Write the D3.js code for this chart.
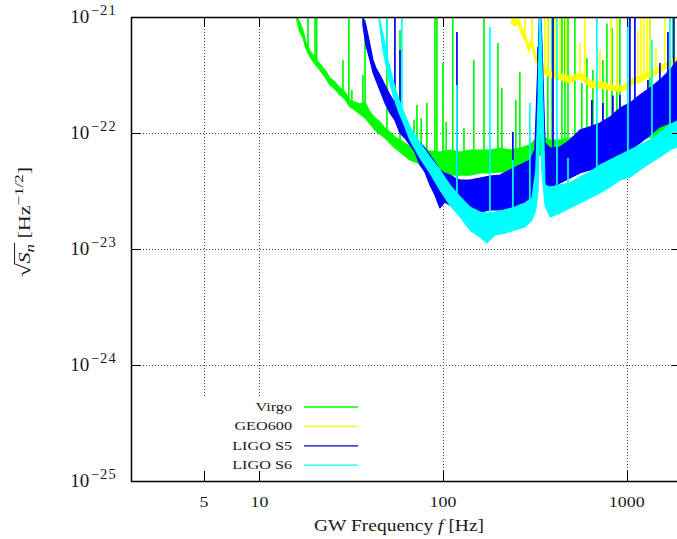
<!DOCTYPE html>
<html><head><meta charset="utf-8">
<script src="https://cdn.jsdelivr.net/npm/d3@7"></script>
<style>body{margin:0;background:#fff}svg{display:block}</style>
</head><body>
<svg id="c" width="677" height="539"></svg>
<script>
// ---------- tick labels ----------
const xTickValues = [5, 10, 100, 1000];
const xTickLabels = ["5", "10", "100", "1000"];
const yTickValues = [1e-21, 1e-22, 1e-23, 1e-24, 1e-25];
const yTickExponents = ["−21", "−22", "−23", "−24", "−25"];
const seriesNames = ["Virgo", "GEO600", "LIGO S5", "LIGO S6"];

// ---------- Virgo (band envelope + spectral lines) ----------
const virgoFreq = [16.0,16.6,17.3,17.9,18.9,20.1,21.4,22.8,24.2,25.8,27.5,29.2,31.1,33.1,35.3,37.6,40.0,42.6,45.3,48.3,51.4,54.7,58.3,62.0,66.0,74.9,84.9,96.2,109,124,140,159,180,204,231,262,297,337,382,433,491,556,715,918,1180,1516,1998];
const virgoHigh = [1e-21,9.05e-22,7.57e-22,6.09e-22,5.09e-22,4.43e-22,3.93e-22,3.49e-22,2.98e-22,2.75e-22,2.44e-22,2.26e-22,1.93e-22,1.85e-22,1.78e-22,1.85e-22,1.52e-22,1.35e-22,1.25e-22,1.10e-22,1.02e-22,9.24e-23,8.70e-23,8.20e-23,7.73e-23,7.28e-23,7.0e-23,6.86e-23,7.13e-23,6.86e-23,7.13e-23,7.13e-23,7.13e-23,7.42e-23,7.13e-23,7.42e-23,7.88e-23,9.61e-23,8.70e-23,8.70e-23,9.06e-23,9.61e-23,1.06e-22,1.17e-22,1.35e-22,1.58e-22,1.93e-22];
const virgoLow  = [9.42e-22,7.42e-22,6.59e-22,5.40e-22,4.52e-22,3.93e-22,3.49e-22,3.04e-22,2.59e-22,2.39e-22,2.13e-22,1.96e-22,1.68e-22,1.58e-22,1.46e-22,1.35e-22,1.20e-22,1.06e-22,9.80e-23,9.06e-23,8.20e-23,7.42e-23,6.86e-23,6.33e-23,5.85e-23,5.40e-23,5.19e-23,4.80e-23,4.34e-23,4.34e-23,4.34e-23,4.52e-23,4.52e-23,4.61e-23,4.61e-23,4.80e-23,5.30e-23,6.46e-23,6.46e-23,6.46e-23,6.72e-23,6.86e-23,7.42e-23,7.88e-23,8.70e-23,9.61e-23,1.06e-22];
const virgoLineFreq = [18.4,20.1,20.5,28.5,30.7,31.9,36.6,37.6,49.5,58.3,69.5,72.1,76.0,81.7,90.3,92.6,99.9,104,113,130,147,167,199,209,249,262,372,392,444,461,479,522,570,607,655,742,780,831,884,918,1338,1785];
const virgoLineTop  = [2e-21,2e-21,2e-21,4.26e-22,2e-21,2.35e-22,3.16e-22,9.4e-22,2e-21,7.72e-22,1.3e-22,1.74e-22,1.35e-22,1.81e-22,2e-21,2e-21,4.01e-22,1.25e-22,2e-21,1.1e-22,4.26e-22,2e-21,5.97e-22,2.44e-22,1.93e-22,3.36e-22,2e-21,2e-21,2e-21,2e-21,2e-21,2e-21,2.70e-22,4.43e-22,3.49e-22,4.26e-22,8.8e-22,8.04e-22,2e-21,2e-21,2e-21,2e-21];

// ---------- GEO600 ----------
const geoFreq = [237,246,256,269,283,293,305,316,337,359,382,417,461,491,536,577,630,688,742,810,884,954,1015,1081,1180,1289,1389,1516,1655,1785,1998];
const geoHigh = [1e-21,9.42e-22,9.8e-22,8.04e-22,6.72e-22,5.74e-22,6.59e-22,5.0e-22,4.01e-22,3.63e-22,3.42e-22,3.29e-22,3.16e-22,3.04e-22,3.23e-22,3.23e-22,2.81e-22,2.75e-22,2.75e-22,2.59e-22,2.54e-22,2.54e-22,2.75e-22,2.98e-22,3.10e-22,3.29e-22,3.42e-22,3.78e-22,4.01e-22,4.34e-22,4.61e-22];
const geoLow  = [8.70e-22,8.36e-22,8.70e-22,7.0e-22,5.97e-22,5.0e-22,5.85e-22,4.26e-22,3.56e-22,3.23e-22,3.04e-22,2.92e-22,2.81e-22,2.70e-22,2.92e-22,2.86e-22,2.49e-22,2.44e-22,2.44e-22,2.35e-22,2.30e-22,2.30e-22,2.44e-22,2.64e-22,2.75e-22,2.98e-22,3.10e-22,3.36e-22,3.63e-22,3.93e-22,4.09e-22];
const geoLineFreq = [279,305,359,372,407,433,467,556,592,715,820,884,1151,1195,1241,1289,1338,1442,1614,1719];
const geoLineTop  = [2e-21,2e-21,2e-21,2e-21,2e-21,2e-21,2e-21,5.97e-22,2e-21,5.19e-22,2e-21,2e-21,7.72e-22,2e-21,2e-21,2e-21,2e-21,5.51e-22,2e-21,2e-21];

// ---------- LIGO S5 ----------
const s5Freq = [36.6,38.0,40.0,41.5,43.1,45.3,48.3,51.4,54.7,58.3,62.0,66.0,70.3,74.9,79.7,84.9,90.3,96.2,102,109,116,124,140,159,180,204,231,262,297,316,329,337,345,359,382,433,491,556,630,715,810,918,1041,1180,1338,1516,1719,1998];
const s5High = [1e-21,8.53e-22,5.74e-22,4.26e-22,3.63e-22,3.16e-22,2.59e-22,2.13e-22,1.81e-22,1.58e-22,1.29e-22,1.06e-22,9.24e-23,8.20e-23,7.42e-23,6.46e-23,5.62e-23,4.80e-23,4.52e-23,4.34e-23,4.09e-23,3.93e-23,3.93e-23,4.09e-23,4.26e-23,4.34e-23,4.80e-23,5.30e-23,5.85e-23,7.13e-23,4.26e-22,1.5e-21,6.33e-22,8.20e-23,7.42e-23,7.57e-23,8.70e-23,1.06e-22,1.13e-22,1.22e-22,1.37e-22,1.64e-22,1.81e-22,2.13e-22,2.44e-22,2.86e-22,3.49e-22,4.70e-22];
const s5Low  = [8.53e-22,5.74e-22,4.26e-22,3.36e-22,2.86e-22,2.35e-22,1.81e-22,1.49e-22,1.29e-22,1.0e-22,9.06e-23,7.88e-23,6.86e-23,5.30e-23,4.61e-23,3.56e-23,2.92e-23,2.26e-23,2.54e-23,2.39e-23,2.39e-23,2.26e-23,2.17e-23,2.08e-23,2.17e-23,2.17e-23,2.26e-23,2.39e-23,2.65e-23,2.92e-23,1.29e-22,4.26e-22,1.29e-22,3.56e-23,3.23e-23,3.71e-23,4.09e-23,4.52e-23,4.80e-23,5.09e-23,5.85e-23,6.46e-23,7.13e-23,8.20e-23,9.61e-23,1.13e-22,1.22e-22,1.29e-22];
const s5LineFreq = [54.7,58.3,119,240,329,397,646,742,841,918,1041,1108,1305,1516,1676,1807];
const s5LineTop  = [2e-21,5.19e-22,7.42e-22,1.02e-22,5.51e-22,2e-21,1.93e-22,1.81e-22,2.1e-22,2.13e-22,2e-21,2e-21,2.86e-22,4.01e-22,7.42e-22,2e-21];

// ---------- LIGO S6 ----------
const s6Freq = [44.8,47.1,50.1,53.4,56.8,62.0,66.0,74.9,84.9,96.2,109,124,140,159,173,192,217,246,279,305,320,329,337,345,359,382,433,491,556,630,715,810,918,1041,1180,1338,1516,1719,1998];
const s6High = [1e-21,7.0e-22,4.26e-22,2.86e-22,2.04e-22,1.43e-22,1.13e-22,8.20e-23,6.21e-23,4.80e-23,3.56e-23,2.81e-23,2.30e-23,2.08e-23,2.04e-23,2.08e-23,2.17e-23,2.30e-23,2.49e-23,2.75e-23,4.80e-23,1.93e-22,1.5e-21,4.26e-22,3.56e-23,3.42e-23,3.56e-23,3.71e-23,4.17e-23,4.61e-23,5.30e-23,5.85e-23,6.46e-23,7.13e-23,7.88e-23,8.70e-23,1.0e-22,1.17e-22,1.35e-22];
const s6Low  = [9.42e-22,5.19e-22,3.16e-22,2.13e-22,1.58e-22,1.13e-22,8.70e-23,6.09e-23,4.52e-23,3.23e-23,2.39e-23,1.89e-23,1.46e-23,1.27e-23,1.13e-23,1.32e-23,1.37e-23,1.46e-23,1.55e-23,1.78e-23,2.17e-23,3.23e-23,1.93e-22,4.80e-23,2.39e-23,1.89e-23,2.04e-23,2.26e-23,2.49e-23,2.75e-23,3.04e-23,3.42e-23,3.93e-23,4.17e-23,4.80e-23,5.51e-23,6.21e-23,7.13e-23,7.88e-23];
const s6LineFreq = [49.5,59.7,119,180,240,297,417,479,688,1015,1372,1719];
const s6LineTop  = [2e-21,2e-21,2.59e-22,8.2e-22,5.85e-23,1.81e-22,2e-21,6.09e-23,2e-21,2e-21,6.33e-22,2e-21];

// ---------- layout & style ----------
const plot = {left: 131, right: 682, top: 17, bottom: 481};
const serif = '"Liberation Serif","DejaVu Serif",serif';
const ink = "#1a1a1a";
const colors = {Virgo: "#00ff00", GEO600: "#ffff00", "LIGO S5": "#0000ff", "LIGO S6": "#00ffff"};

const svg = d3.select("#c");
const x = d3.scaleLog().domain([2, 2000]).range([plot.left, plot.right]);
const y = d3.scaleLog().domain([1e-25, 1e-21]).range([plot.bottom, plot.top]);

svg.append("defs").append("clipPath").attr("id", "clip")
  .append("rect").attr("x", plot.left).attr("y", plot.top)
  .attr("width", plot.right - plot.left).attr("height", plot.bottom - plot.top);

// grid
const grid = svg.append("g").attr("stroke", "#444").attr("stroke-width", 1)
  .attr("stroke-dasharray", "1,2").attr("fill", "none");
grid.selectAll("line.v").data(xTickValues).enter().append("line")
  .attr("x1", d => Math.round(x(d)) + 0.5).attr("x2", d => Math.round(x(d)) + 0.5)
  .attr("y1", plot.top).attr("y2", plot.bottom);
grid.selectAll("line.h").data(yTickValues.slice(1, 4)).enter().append("line")
  .attr("y1", d => Math.round(y(d)) + 0.5).attr("y2", d => Math.round(y(d)) + 0.5)
  .attr("x1", plot.left).attr("x2", plot.right);

// curves
const series = [
  {name: "Virgo", f: virgoFreq, lo: virgoLow, hi: virgoHigh, lf: virgoLineFreq, lt: virgoLineTop},
  {name: "GEO600", f: geoFreq, lo: geoLow, hi: geoHigh, lf: geoLineFreq, lt: geoLineTop},
  {name: "LIGO S5", f: s5Freq, lo: s5Low, hi: s5High, lf: s5LineFreq, lt: s5LineTop},
  {name: "LIGO S6", f: s6Freq, lo: s6Low, hi: s6High, lf: s6LineFreq, lt: s6LineTop}
];
const curves = svg.append("g").attr("clip-path", "url(#clip)");
series.forEach(s => {
  const col = colors[s.name];
  const pts = s.f.map((f, i) => ({f, lo: s.lo[i], hi: s.hi[i]}));
  const area = d3.area().x(d => x(d.f)).y0(d => y(d.lo)).y1(d => y(d.hi));
  curves.append("path").datum(pts).attr("d", area)
    .attr("fill", col).attr("stroke", col).attr("stroke-width", 1.2).attr("stroke-linejoin", "round");
  // spectral lines: vertical strokes from the band up to their peak
  const hiAt = d3.scaleLog().domain(s.f).range(s.hi.map(v => Math.log10(v))).clamp(true);
  const lines = s.lf.map((f, i) => ({f, top: s.lt[i]}));
  curves.selectAll(null).data(lines).enter().append("line")
    .attr("x1", d => x(d.f)).attr("x2", d => x(d.f))
    .attr("y1", d => y(Math.pow(10, hiAt(d.f))) + 2).attr("y2", d => y(d.top))
    .attr("stroke", col).attr("stroke-width", 1.7);
});

// legend (opaque box)
svg.append("rect").attr("x", plot.left + 1).attr("y", 396).attr("width", 234).attr("height", plot.bottom - 396 - 1)
  .attr("fill", "#fff");
const leg = svg.append("g");
seriesNames.forEach((n, i) => {
  const ly = 407 + i * 19.4;
  leg.append("line").attr("x1", 304).attr("x2", 358).attr("y1", ly).attr("y2", ly)
    .attr("stroke", n === "LIGO S5" ? "#0000c8" : colors[n]).attr("stroke-width", 1.3);
  leg.append("g").attr("transform", `translate(292,${ly + 4}) scale(1.35,1)`)
    .append("text").attr("text-anchor", "end").attr("font-family", serif)
    .attr("font-size", 12).attr("fill", ink).text(n);
});

// frame & ticks
const axes = svg.append("g").attr("stroke", "#000").attr("fill", "none");
axes.append("rect").attr("x", plot.left + 0.5).attr("y", plot.top + 0.5)
  .attr("width", plot.right - plot.left).attr("height", plot.bottom - plot.top).attr("stroke-width", 1.5);
const tl = 10;
yTickValues.forEach(v => {
  const yy = Math.round(y(v)) + 0.5;
  axes.append("line").attr("x1", plot.left).attr("x2", plot.left + tl).attr("y1", yy).attr("y2", yy);
  axes.append("line").attr("x1", plot.right - tl).attr("x2", plot.right).attr("y1", yy).attr("y2", yy);
});
xTickValues.forEach(v => {
  const xx = Math.round(x(v)) + 0.5;
  axes.append("line").attr("x1", xx).attr("x2", xx).attr("y1", plot.bottom).attr("y2", plot.bottom - tl);
  axes.append("line").attr("x1", xx).attr("x2", xx).attr("y1", plot.top).attr("y2", plot.top + tl);
});

// y tick labels
yTickValues.forEach((v, i) => {
  const t = svg.append("text").attr("x", 117).attr("y", y(v) + 6).attr("text-anchor", "end")
    .attr("font-family", serif).attr("font-size", 19).attr("fill", ink);
  t.append("tspan").text("10");
  t.append("tspan").attr("dy", -8).attr("dx", 1.5).attr("font-size", 14.5)
    .attr("letter-spacing", 1.2).text(yTickExponents[i]);
});
// x tick labels
xTickValues.forEach((v, i) => {
  svg.append("g").attr("transform", `translate(${x(v)},507) scale(1.28,1)`)
    .append("text").attr("text-anchor", "middle").attr("font-family", serif)
    .attr("font-size", 14).attr("fill", ink).text(xTickLabels[i]);
});
// x axis title
const xt = svg.append("g").attr("transform", "translate(399,531) scale(1.22,1)")
  .append("text").attr("text-anchor", "middle").attr("font-family", serif).attr("font-size", 16).attr("fill", ink);
xt.append("tspan").text("GW Frequency ");
xt.append("tspan").attr("font-style", "italic").text("f");
xt.append("tspan").text(" [Hz]");

// y axis title
const yg = svg.append("g").attr("transform", "translate(30,222) rotate(-90) scale(1.3,1)");
const yt = yg.append("text").attr("text-anchor", "middle").attr("font-family", serif)
  .attr("font-size", 17).attr("fill", ink);
yt.append("tspan").attr("font-size", 19).text("√");
yt.append("tspan").attr("font-style", "italic").text("S");
yt.append("tspan").attr("font-style", "italic").attr("font-size", 13).attr("dy", 4).text("n");
yt.append("tspan").attr("dy", -4).text(" [Hz");
yt.append("tspan").attr("font-size", 13).attr("dy", -7).text("−1/2");
yt.append("tspan").attr("dy", 7).text("]");
// overline of the radical
const e1 = yt.node().getExtentOfChar(0), e3 = yt.node().getExtentOfChar(2);
yg.append("line").attr("x1", e1.x + e1.width - 0.8).attr("x2", e3.x + e3.width + 1)
  .attr("y1", e1.y + 1.8).attr("y2", e1.y + 1.8).attr("stroke", ink).attr("stroke-width", 1);
</script>
</body></html>
